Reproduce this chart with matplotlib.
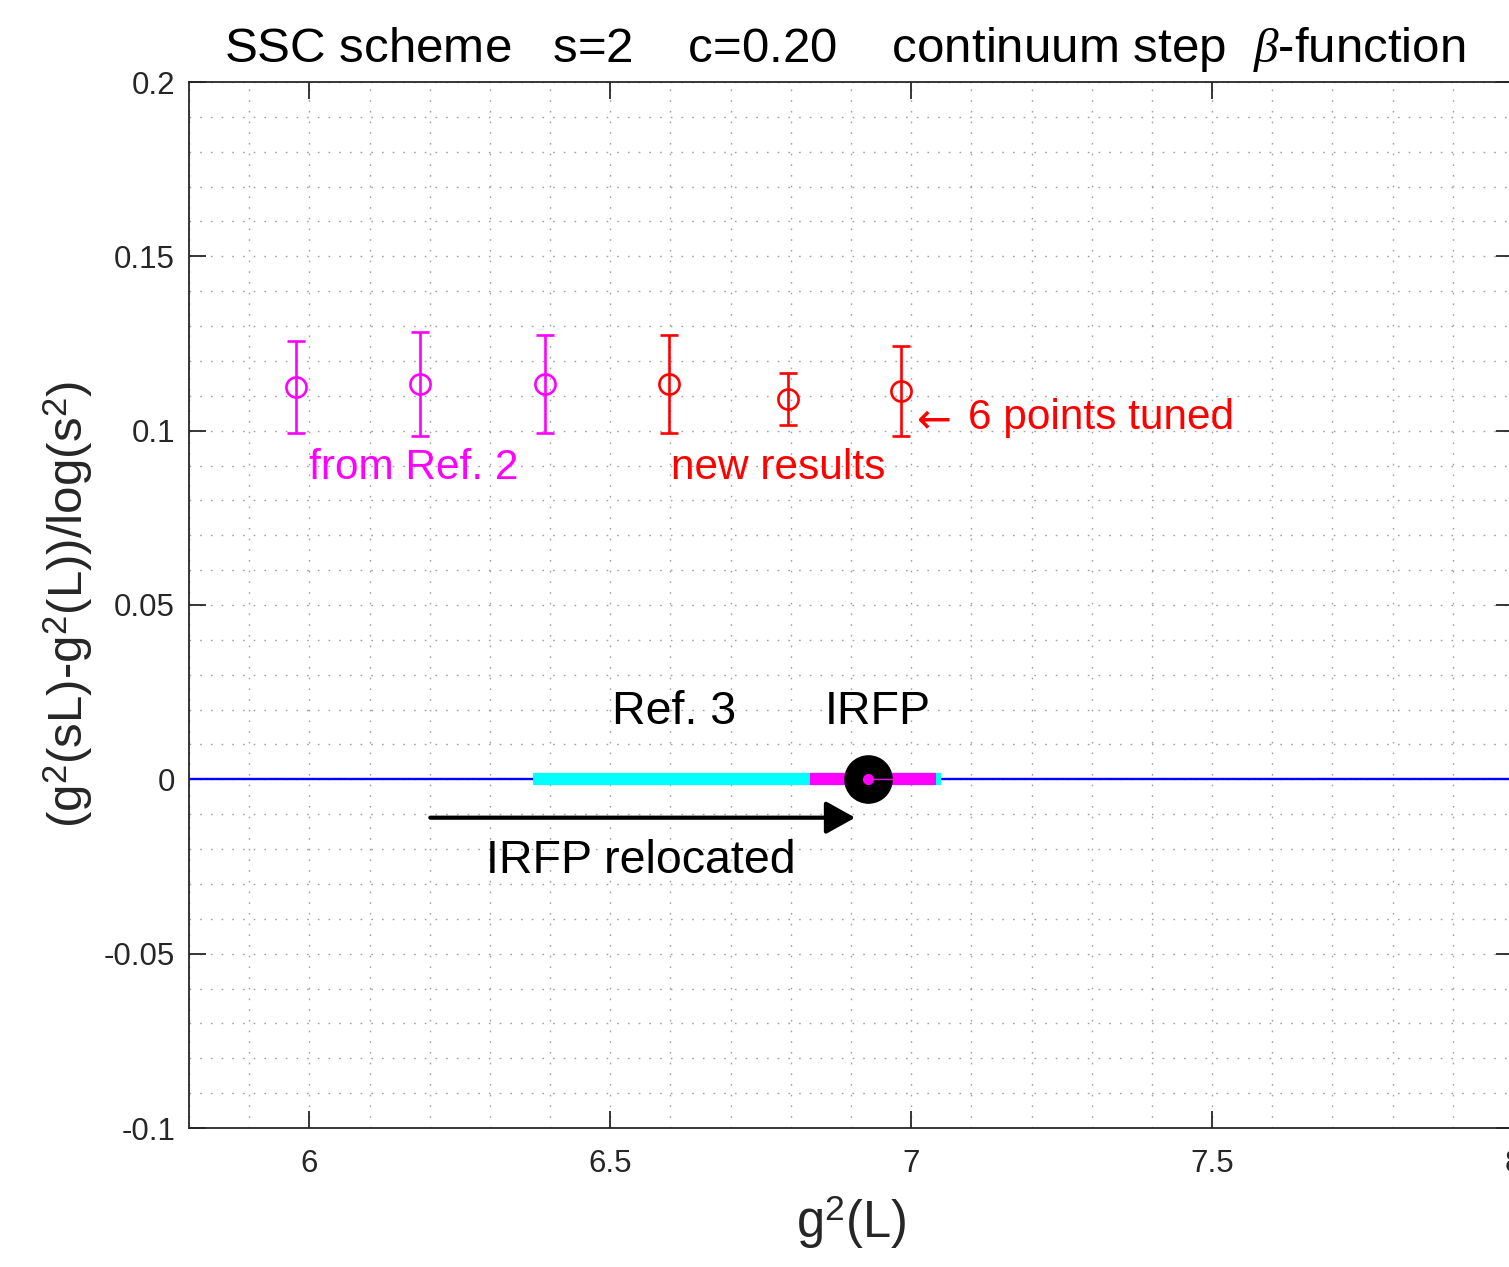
import matplotlib
matplotlib.use("Agg")
import matplotlib.pyplot as plt
from matplotlib.ticker import MultipleLocator, FixedLocator

plt.rcParams['font.family'] = ['Liberation Sans', 'DejaVu Sans']
plt.rcParams['mathtext.fontset'] = 'custom'
plt.rcParams['mathtext.rm'] = 'Liberation Sans'
plt.rcParams['mathtext.it'] = 'Liberation Serif:italic'

# ---- data ----
ref2_x = [5.977, 6.184, 6.392]
ref2_y = [0.1125, 0.1134, 0.1134]
ref2_err = [0.0131, 0.0149, 0.0141]

new_x = [6.598, 6.796, 6.983]
new_y = [0.1134, 0.1091, 0.1114]
new_err = [0.0141, 0.0074, 0.0130]

ref3_band = [6.372, 7.050]
new_band = [6.832, 7.042]
irfp_x = 6.929
irfp_xerr_right = 0.04
arrow_from = 6.201
arrow_to = 6.907
arrow_y = -0.011

xticks = [6, 6.5, 7, 7.5, 8]
xtick_labels = ["6", "6.5", "7", "7.5", "8"]
yticks = [-0.1, -0.05, 0, 0.05, 0.1, 0.15, 0.2]
ytick_labels = ["-0.1", "-0.05", "0", "0.05", "0.1", "0.15", "0.2"]

fig = plt.figure(figsize=(15.09, 12.67), dpi=100)
ax = fig.add_axes([189/1509, 1 - 1128/1267, 1324/1509, 1046/1267])
ax.set_xlim(5.8, 8.0)
ax.set_ylim(-0.1, 0.2)

# grid
ax.xaxis.set_minor_locator(MultipleLocator(0.1))
ax.yaxis.set_minor_locator(MultipleLocator(0.01))
ax.grid(which='both', linestyle=(0, (1.2, 6.5)), color='#a0a0a0', linewidth=1.0)
ax.set_axisbelow(True)

# zero line
ax.axhline(0, color='#0000ff', lw=1.7, zorder=2)

# bands
ax.plot(ref3_band, [0, 0], color='#00ffff', lw=8.8, solid_capstyle='butt', zorder=3)
ax.plot(new_band, [0, 0], color='#ff00ff', lw=8.8, solid_capstyle='butt', zorder=4)

# IRFP marker
ax.plot([irfp_x], [0], 'o', color='k', ms=34, zorder=5)
ax.plot([irfp_x, irfp_x + irfp_xerr_right], [0, 0], color='#ff00ff', lw=1.0, zorder=6)
ax.plot([irfp_x], [0], 'o', color='#ff00ff', ms=7, zorder=7)

# data points
ax.errorbar(ref2_x, ref2_y, yerr=ref2_err, fmt='o', mfc='none', mec='#ff00ff',
            ecolor='#ff00ff', ms=14.5, mew=1.9, elinewidth=1.9, capsize=6.5,
            capthick=1.9, zorder=6)
ax.errorbar(new_x, new_y, yerr=new_err, fmt='o', mfc='none', mec='#ff0000',
            ecolor='#ff0000', ms=14.5, mew=1.9, elinewidth=1.9, capsize=6.5,
            capthick=1.9, zorder=6)

# arrow
ax.annotate('', xy=(arrow_to, arrow_y), xytext=(arrow_from, arrow_y),
            arrowprops=dict(arrowstyle='-|>,head_length=0.9,head_width=0.5',
                            mutation_scale=20, lw=3, color='k',
                            shrinkA=0, shrinkB=0), zorder=6)

# annotations
ax.text(6.0, 0.0893, "from Ref. 2", color='#ff00ff', fontsize=30.5, va='center', ha='left')
ax.text(6.601, 0.0893, "new results", color='#ff0000', fontsize=30.5, va='center', ha='left')
ax.text(7.010, 0.1030, "\u2190", color='#ff0000', fontsize=30,
        va='center', ha='left', family=['DejaVu Sans'])
ax.text(7.0947, 0.1036, "6 points tuned", color='#ff0000', fontsize=30.5,
        va='center', ha='left')
ax.text(6.503, 0.0192, "Ref. 3", color='k', fontsize=33.5, va='center', ha='left')
ax.text(6.857, 0.0192, "IRFP", color='k', fontsize=33.5, va='center', ha='left')
ax.text(6.294, -0.0233, "IRFP relocated", color='k', fontsize=33.5, va='center', ha='left')

# ticks
ax.xaxis.set_major_locator(FixedLocator(xticks))
ax.set_xticklabels(xtick_labels)
ax.yaxis.set_major_locator(FixedLocator(yticks))
ax.set_yticklabels(ytick_labels)
ax.tick_params(which='major', direction='in', length=12, width=1.3, color='#262626',
               top=True, right=True, labelsize=22.5, labelcolor='#262626')
ax.tick_params(axis='x', which='major', pad=15)
ax.tick_params(axis='y', which='major', pad=10)
ax.tick_params(which='minor', length=0, top=True, right=True)
for sp in ax.spines.values():
    sp.set_color('#262626')
    sp.set_linewidth(1.3)

ax.set_xlabel("g$^2$(L)", fontsize=36.5, color='#262626')
ax.xaxis.set_label_coords(0.5, -0.062)
ax.set_ylabel("(g$^2$(sL)-g$^2$(L))/log(s$^2$)", fontsize=35.5, color='#262626')
ax.yaxis.set_label_coords(-0.071, 0.5)

ax.text(0.4955, 1.019,
        "SSC scheme   s=2    c=0.20    continuum step  $\\beta$-function",
        transform=ax.transAxes, ha='center', va='baseline', fontsize=35.5, color='k')

fig.savefig("out.png", dpi=100)
